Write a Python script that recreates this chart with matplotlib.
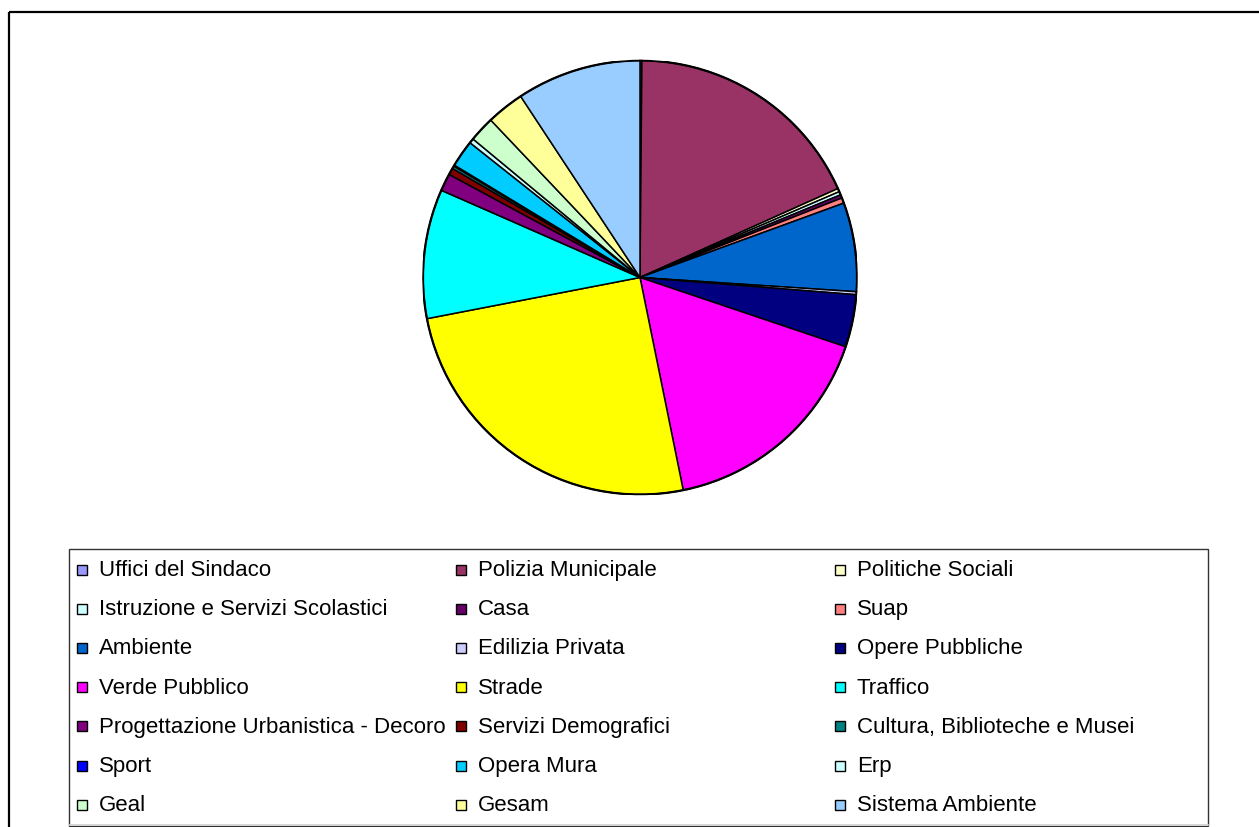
import matplotlib.pyplot as plt
from matplotlib.patches import Rectangle, Circle

plt.rcParams['font.family'] = ['Liberation Sans', 'DejaVu Sans']

# share of reports per office (percent), clockwise from 12 o'clock
labels = [
    "Uffici del Sindaco", "Polizia Municipale", "Politiche Sociali",
    "Istruzione e Servizi Scolastici", "Casa", "Suap",
    "Ambiente", "Edilizia Privata", "Opere Pubbliche",
    "Verde Pubblico", "Strade", "Traffico",
    "Progettazione Urbanistica - Decoro", "Servizi Demografici", "Cultura, Biblioteche e Musei",
    "Sport", "Opera Mura", "Erp",
    "Geal", "Gesam", "Sistema Ambiente",
]
values = [
    0.14, 18.1, 0.25,
    0.25, 0.25, 0.4,
    6.6, 0.22, 3.9,
    16.6, 25.1, 9.6,
    1.3, 0.5, 0.2,
    0.08, 2.0, 0.35,
    1.9, 2.8, 9.25,
]
colors = [
    "#9999FF", "#993366", "#FFFFCC",
    "#CCFFFF", "#660066", "#FF8080",
    "#0066CC", "#CCCCFF", "#000080",
    "#FF00FF", "#FFFF00", "#00FFFF",
    "#800080", "#800000", "#008080",
    "#0000FF", "#00CCFF", "#CCFFFF",
    "#CCFFCC", "#FFFF99", "#99CCFF",
]

W, H = 1259, 828
fig = plt.figure(figsize=(W / 100, H / 100), dpi=100)

# background layer in pixel coordinates: outer frame and legend
bg = fig.add_axes([0, 0, 1, 1])
bg.set_xlim(0, W)
bg.set_ylim(H, 0)
bg.axis("off")
bg.add_patch(Rectangle((9.5, 12.5), W + 20, H + 20, fill=False,
                       edgecolor="black", linewidth=1.6))
bg.add_patch(Rectangle((69.5, 549.5), 1208 - 69.5, 826.5 - 549.5,
                       facecolor="white", edgecolor="#333333", linewidth=1.0))
bg.plot([69.5, 1208], [826.5, 826.5], color="#d0d0d0", linewidth=1.2)

col_marker = [77, 456, 835]
col_text = [99, 478, 857]
row0, row_step = 576, 39.2
for i, (lab, col) in enumerate(zip(labels, colors)):
    r, c = divmod(i, 3)
    base = row0 + r * row_step
    bg.add_patch(Rectangle((col_marker[c], base - 10.5), 10, 10,
                           facecolor=col, edgecolor="black", linewidth=1.0))
    bg.text(col_text[c], base, lab, fontsize=16, color="black",
            ha="left", va="baseline")

# pie
cx, cy, rad = 640, 278.5, 217
ax = fig.add_axes([(cx - rad) / W, (H - cy - rad) / H, 2 * rad / W, 2 * rad / H])
ax.pie(values, colors=colors, startangle=90, counterclock=False,
       wedgeprops=dict(edgecolor="black", linewidth=1.1))
ax.add_patch(Circle((0, 0), 1, fill=False, edgecolor="black", linewidth=1.6))
ax.set_xlim(-1, 1)
ax.set_ylim(-1, 1)
ax.set_aspect("equal")
ax.axis("off")

fig.savefig("out.png", dpi=100)
